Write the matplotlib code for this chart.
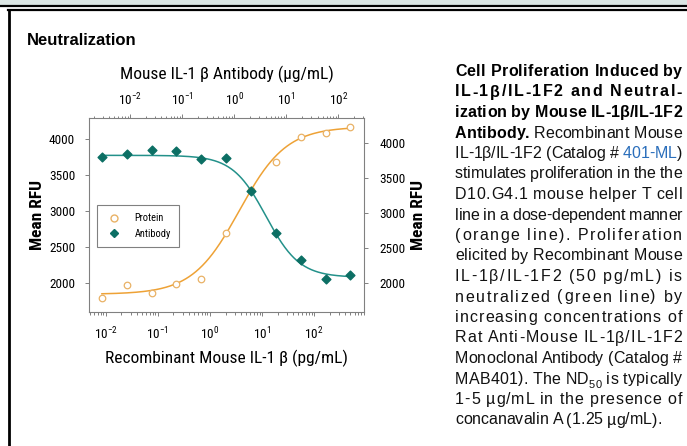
import numpy as np
import matplotlib
matplotlib.use('Agg')
import matplotlib.pyplot as plt
from matplotlib import font_manager
from matplotlib.lines import Line2D
from matplotlib.patches import Rectangle

# data
protein_conc = [0.00847, 0.0254, 0.0762, 0.229, 0.686, 2.06, 6.17, 18.5, 55.6, 166.7, 500]  # pg/mL
protein_rfu = [1789, 1968, 1855, 1985, 2054, 2695, 3290, 3675, 4032, 4084, 4171]
antibody_conc = [0.00289, 0.00867, 0.026, 0.078, 0.234, 0.702, 2.1, 6.3, 18.9, 56.9, 170.6]  # ug/mL
antibody_rfu = [3792, 3844, 3896, 3882, 3764, 3778, 3313, 2720, 2332, 2066, 2114]

# four parameter fits: bottom, top, midpoint, slope
protein_fit = [1840, 4170, 3.69, 0.965]
antibody_fit = [2085, 3820, 4.1, 1.35]

y_ticks = [2000, 2500, 3000, 3500, 4000]

orange = '#eea236'
orange_pt = '#e9b266'
teal = '#23918a'
teal_pt = '#0c6f64'

# pick a narrow face for the chart texts if one is there
names = {f.name for f in font_manager.fontManager.ttflist}
narrow = 'Roboto'
for cand in ['Liberation Sans Narrow', 'Roboto Condensed', 'Open Sans Condensed', 'Arial Narrow']:
    if cand in names:
        narrow = cand
        break
plt.rcParams['mathtext.fontset'] = 'custom'
plt.rcParams['mathtext.rm'] = narrow

W, H = 687, 446
fig = plt.figure(figsize=(W / 100, H / 100), dpi=100)


def fx(px):
    return px / W


def fy(py):
    return 1 - py / H


# page frame
fig.patches.append(Rectangle((0, fy(5.5)), 1, 5.5 / H, transform=fig.transFigure,
                             facecolor='#dbe6e4', edgecolor='none'))
fig.add_artist(Line2D([0, 1], [fy(6), fy(6)], color='black', lw=1.6))
fig.add_artist(Line2D([fx(8), 1], [fy(10), fy(10)], color='black', lw=1.6))
fig.add_artist(Line2D([fx(9), fx(9)], [fy(10), 0], color='black', lw=2))

fig.text(fx(27), fy(45), 'Neutralization', fontsize=12, fontweight='bold',
         family='Liberation Sans', va='baseline')

pos = [fx(89), fy(312), fx(364) - fx(89), fy(118) - fy(312)]
ax = fig.add_axes(pos)
ax2 = fig.add_axes(pos, frameon=False)

xs_p = np.logspace(np.log10(protein_conc[0]), np.log10(protein_conc[-1]), 300)
b, t, m, h = protein_fit
ax.plot(xs_p, b + (t - b) / (1 + (m / xs_p) ** h), color=orange, lw=1.1, zorder=2)
ax.scatter(protein_conc, protein_rfu, s=22, facecolors='white', edgecolors=orange_pt,
           linewidths=0.9, zorder=3)

xs_a = np.logspace(np.log10(antibody_conc[0]), np.log10(antibody_conc[-1]), 300)
b, t, m, h = antibody_fit
ax2.plot(xs_a, b + (t - b) / (1 + (xs_a / m) ** h), color=teal, lw=1.1, zorder=2)
ax2.scatter(antibody_conc, antibody_rfu, s=20, marker='D', color=teal_pt, zorder=3)

ax.set_xscale('log')
ax.set_xlim(10 ** -2.32, 10 ** 2.96)
ax.set_ylim(1593, 4292)
ax.set_yticks(y_ticks)
ax2.set_xscale('log')
ax2.set_xlim(10 ** -2.787, 10 ** 2.493)
ax2.set_ylim(1592, 4351)
ax2.set_yticks(y_ticks)
ax2.xaxis.tick_top()
ax2.yaxis.tick_right()
ax2.xaxis.set_label_position('top')
ax2.yaxis.set_label_position('right')
ax2.patch.set_alpha(0)

for a in (ax, ax2):
    a.tick_params(which='both', direction='out', color='#808080', labelsize=9.5,
                  width=0.7)
    a.tick_params(which='major', length=3)
    a.tick_params(which='minor', length=1.8)
    for lab in a.get_xticklabels() + a.get_yticklabels():
        lab.set_family(narrow)
for s in ax.spines.values():
    s.set_color('#808080')
    s.set_linewidth(0.8)
ax.tick_params(axis='x', pad=7)
ax2.tick_params(axis='x', pad=4)
ax2.tick_params(axis='y', pad=8)
ax.tick_params(axis='y', pad=7)

ax.set_xlabel('Recombinant Mouse IL-1 β (pg/mL)', family=narrow, fontsize=12.5, labelpad=5)
ax2.set_xlabel('Mouse IL-1 β Antibody (µg/mL)', family=narrow, fontsize=12.5, labelpad=9)
ax.set_ylabel('Mean RFU', family=narrow, fontsize=12.5, fontweight='bold', labelpad=3)
ax2.set_ylabel('Mean RFU', family=narrow, fontsize=12.5, fontweight='bold', labelpad=4)

handles = [Line2D([], [], ls='none', marker='o', mfc='white', mec=orange_pt, ms=5),
           Line2D([], [], ls='none', marker='D', color=teal_pt, ms=4)]
leg = ax.legend(handles, ['Protein', 'Antibody'], loc='upper left',
                bbox_to_anchor=(fx(97), fy(205)), bbox_transform=fig.transFigure,
                prop={'family': narrow, 'size': 7.5},
                fancybox=False, edgecolor='#808080', framealpha=1, borderpad=0.8,
                handletextpad=1.2, labelspacing=0.55, handlelength=1.6, borderaxespad=0)
leg.get_frame().set_linewidth(0.8)

# caption on the right, letter-spaced to a justified block like the original
caption = [
    [('Cell Proliferation Induced by', 'b')],
    [('IL-1β/IL-1F2 and Neutral-', 'b')],
    [('ization by Mouse IL-1β/IL-1F2', 'b')],
    [('Antibody.', 'b'), (' Recombinant Mouse', 'n')],
    [('IL-1β/IL-1F2 (Catalog # ', 'n'), ('401-ML', 'l'), (')', 'n')],
    [('stimulates proliferation in the the', 'n')],
    [('D10.G4.1 mouse helper T cell', 'n')],
    [('line in a dose-dependent manner', 'n')],
    [('(orange line). Proliferation', 'n')],
    [('elicited by Recombinant Mouse', 'n')],
    [('IL-1β/IL-1F2 (50 pg/mL) is', 'n')],
    [('neutralized (green line) by', 'n')],
    [('increasing concentrations of', 'n')],
    [('Rat Anti-Mouse IL-1β/IL-1F2', 'n')],
    [('Monoclonal Antibody (Catalog #', 'n')],
    [('MAB401). The ND', 'n'), ('50', 's'), (' is typically', 'n')],
    [('1-5 µg/mL in the presence of', 'n')],
    [('concanavalin A (1.25 µg/mL).', 'n')],
]
# weight, colour, size, baseline shift (px)
styles = {'b': ('bold', 'black', 11.5, 0), 'n': ('normal', '#111111', 11.5, 0),
          'l': ('normal', '#2a6ebb', 11.5, 0), 's': ('normal', '#111111', 8, -4)}
x0, x1 = 455, 682
base0, step = 76, 20.5
fig.canvas.draw()
rend = fig.canvas.get_renderer()
probe = fig.text(0, 0, '', family='Liberation Sans')


def adv(s, st):
    wt, _, size, _ = styles[st]
    probe.set_fontweight(wt)
    probe.set_fontsize(size)
    probe.set_text('|')
    bar = probe.get_window_extent(rend).width
    probe.set_text(s + '|')
    return probe.get_window_extent(rend).width - bar


for i, segs in enumerate(caption):
    chars = []  # (char, style, natural x)
    start = 0.0
    for txt, st in segs:
        for k, c in enumerate(txt):
            chars.append((c, st, start + adv(txt[:k], st)))
        start += adv(txt, st)
    if i < len(caption) - 1:
        extra = (x1 - x0 - start) / (len(chars) - 1)
    else:
        extra = 0.0
    yb = base0 + i * step
    for k, (c, st, xn) in enumerate(chars):
        if c == ' ':
            continue
        wt, col, size, dy = styles[st]
        fig.text(fx(x0 + xn + k * extra), fy(yb - dy), c, fontsize=size, fontweight=wt,
                 color=col, family='Liberation Sans', va='baseline')
probe.remove()

fig.savefig('out.png', dpi=100)
